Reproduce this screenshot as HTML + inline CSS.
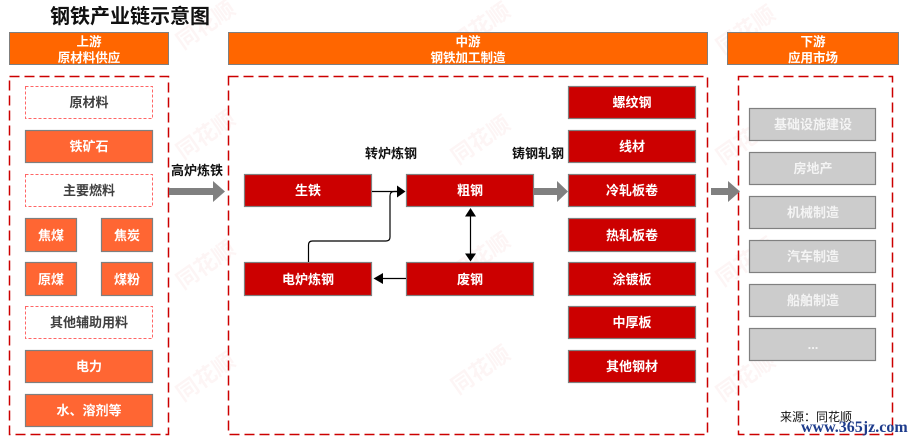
<!DOCTYPE html>
<html><head><meta charset="utf-8"><style>
html,body{margin:0;padding:0;background:#fff;}
svg{display:block;}
text{font-family:"Liberation Sans","Noto Sans CJK SC",sans-serif;font-weight:bold;}
</style></head><body>
<svg width="921" height="441" viewBox="0 0 921 441" xmlns="http://www.w3.org/2000/svg">
<!-- watermarks -->
<g fill="#d42020" fill-opacity="0.045" font-size="22">
<text x="0" y="0" transform="translate(183,50) rotate(-35)">同花顺</text>
<text x="0" y="0" transform="translate(183,160) rotate(-35)">同花顺</text>
<text x="0" y="0" transform="translate(183,290) rotate(-35)">同花顺</text>
<text x="0" y="0" transform="translate(183,402) rotate(-35)">同花顺</text>
<text x="0" y="0" transform="translate(458,52) rotate(-35)">同花顺</text>
<text x="0" y="0" transform="translate(458,165) rotate(-35)">同花顺</text>
<text x="0" y="0" transform="translate(458,282) rotate(-35)">同花顺</text>
<text x="0" y="0" transform="translate(458,395) rotate(-35)">同花顺</text>
<text x="0" y="0" transform="translate(723,55) rotate(-35)">同花顺</text>
<text x="0" y="0" transform="translate(723,165) rotate(-35)">同花顺</text>
<text x="0" y="0" transform="translate(723,287) rotate(-35)">同花顺</text>
<text x="0" y="0" transform="translate(723,402) rotate(-35)">同花顺</text>
</g>

<!-- title -->
<text x="50" y="23" font-size="20" fill="#111">钢铁产业链示意图</text>

<!-- headers -->
<g fill="#FF6600" stroke="#7f7f7f" stroke-width="1">
<rect x="9.5" y="32.5" width="159" height="32"/>
<rect x="228.5" y="32.5" width="479" height="32"/>
<rect x="727.5" y="32.5" width="171" height="32"/>
</g>
<g fill="#fff" font-size="12.5" text-anchor="middle">
<text x="89" y="46">上游</text><text x="89" y="62">原材料供应</text>
<text x="468" y="46">中游</text><text x="468" y="62">钢铁加工制造</text>
<text x="813" y="46">下游</text><text x="813" y="62">应用市场</text>
</g>

<!-- containers -->
<g fill="none" stroke="#cc0000" stroke-width="1.5" stroke-dasharray="10 5">
<rect x="9.5" y="76.5" width="159" height="358"/>
<rect x="228.5" y="76.5" width="479" height="358"/>
<rect x="738.5" y="76.5" width="154" height="358"/>
</g>

<!-- upstream dashed boxes -->
<g fill="#fff" stroke="#ff6666" stroke-width="1" stroke-dasharray="3 2">
<rect x="25.5" y="86.5" width="127" height="32"/>
<rect x="25.5" y="174.5" width="127" height="32"/>
<rect x="25.5" y="306.5" width="127" height="32"/>
</g>
<!-- upstream orange boxes -->
<g fill="#FF6633" stroke="#7f7f7f" stroke-width="1.2">
<rect x="25.5" y="130.5" width="127" height="32"/>
<rect x="25.5" y="218.5" width="51" height="33"/>
<rect x="101.5" y="218.5" width="51" height="33"/>
<rect x="25.5" y="262.5" width="51" height="33"/>
<rect x="101.5" y="262.5" width="51" height="33"/>
<rect x="25.5" y="350.5" width="127" height="32"/>
<rect x="25.5" y="394.5" width="127" height="32"/>
</g>
<g font-size="13" text-anchor="middle" fill="#404040">
<text x="89" y="107">原材料</text>
<text x="89" y="195">主要燃料</text>
<text x="89" y="327">其他辅助用料</text>
</g>
<g font-size="13" text-anchor="middle" fill="#fff">
<text x="89" y="151">铁矿石</text>
<text x="51" y="240">焦煤</text>
<text x="127" y="240">焦炭</text>
<text x="51" y="284">原煤</text>
<text x="127" y="284">煤粉</text>
<text x="89" y="371">电力</text>
<text x="89" y="415">水、溶剂等</text>
</g>

<!-- gray arrows -->
<g fill="#808080">
<polygon points="169,188 213,188 213,181 225,191.5 213,202 213,195 169,195"/>
<polygon points="533,188 557,188 557,181 568,191.5 557,202 557,195 533,195"/>
<polygon points="711,188 728,188 728,181 740,191.5 728,202 728,195 711,195"/>
</g>
<g font-size="13" fill="#111">
<text x="171" y="175">高炉炼铁</text>
<text x="365" y="158">转炉炼钢</text>
<text x="512" y="158">铸钢轧钢</text>
</g>

<!-- middle red boxes -->
<g fill="#CC0000" stroke="#7f7f7f" stroke-width="1.2">
<rect x="244.5" y="174.5" width="127" height="32"/>
<rect x="406.5" y="174.5" width="127" height="32"/>
<rect x="244.5" y="262.5" width="127" height="33"/>
<rect x="406.5" y="262.5" width="127" height="33"/>
<rect x="568.5" y="86.5" width="127" height="32"/>
<rect x="568.5" y="130.5" width="127" height="32"/>
<rect x="568.5" y="174.5" width="127" height="32"/>
<rect x="568.5" y="218.5" width="127" height="33"/>
<rect x="568.5" y="262.5" width="127" height="33"/>
<rect x="568.5" y="306.5" width="127" height="32"/>
<rect x="568.5" y="350.5" width="127" height="32"/>
</g>
<g font-size="13" text-anchor="middle" fill="#fff">
<text x="308" y="195">生铁</text>
<text x="470" y="195">粗钢</text>
<text x="308" y="284">电炉炼钢</text>
<text x="470" y="284">废钢</text>
<text x="632" y="107">螺纹钢</text>
<text x="632" y="151">线材</text>
<text x="632" y="195">冷轧板卷</text>
<text x="632" y="240">热轧板卷</text>
<text x="632" y="284">涂镀板</text>
<text x="632" y="327">中厚板</text>
<text x="632" y="371">其他钢材</text>
</g>

<!-- connectors -->
<g stroke="#000" stroke-width="1.2" fill="none">
<line x1="372" y1="191.5" x2="398" y2="191.5"/>
<path d="M308.5 262 V245 Q308.5 241 312.5 241 H386 Q390 241 390 237 V196 Q390 191.5 394 191.5 H398"/>
<line x1="470.5" y1="214" x2="470.5" y2="256"/>
<line x1="406" y1="278.5" x2="381" y2="278.5"/>
</g>
<g fill="#000">
<polygon points="397,185.5 405.5,191.5 397,197.5"/>
<polygon points="465,216.5 470.5,208 476,216.5"/>
<polygon points="465,253.5 470.5,261.5 476,253.5"/>
<polygon points="383,273 373.5,278.5 383,284"/>
</g>

<!-- downstream gray boxes -->
<g fill="#CCCCCC" stroke="#808080" stroke-width="1.2">
<rect x="749.5" y="108.5" width="126" height="32"/>
<rect x="749.5" y="152.5" width="126" height="32"/>
<rect x="749.5" y="196.5" width="126" height="32"/>
<rect x="749.5" y="240.5" width="126" height="32"/>
<rect x="749.5" y="284.5" width="126" height="32"/>
<rect x="749.5" y="328.5" width="126" height="32"/>
</g>
<g font-size="13" text-anchor="middle" fill="#f4f4f4">
<text x="813" y="129">基础设施建设</text>
<text x="813" y="173">房地产</text>
<text x="813" y="217">机械制造</text>
<text x="813" y="261">汽车制造</text>
<text x="813" y="305">船舶制造</text>
<text x="813" y="349">...</text>
</g>

<!-- source -->
<text x="780" y="421" font-size="12" fill="#111" style="font-weight:normal">来源：同花顺</text>
<text x="801" y="432" font-size="16" fill="#1e3c8c" style="font-family:'Liberation Serif',serif;font-weight:bold">www.365jz.com</text>
</svg>
</body></html>
